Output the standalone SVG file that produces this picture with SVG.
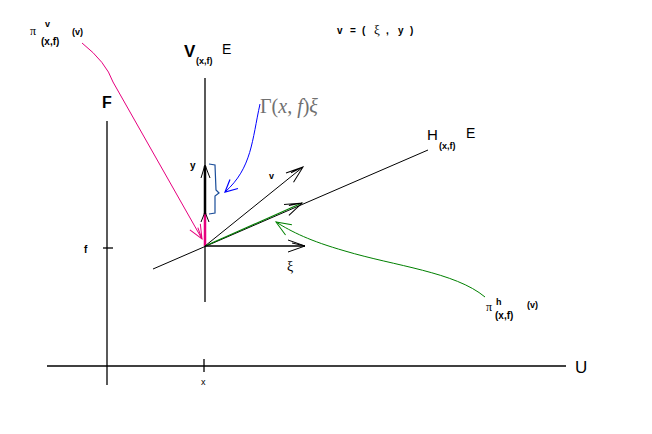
<svg xmlns="http://www.w3.org/2000/svg" width="652" height="434" viewBox="0 0 652 434">
<defs>
<style>
.ax{stroke:#000;stroke-width:1.3;fill:none}
.lbl{font-family:"Liberation Sans",Arial,sans-serif;font-weight:bold;fill:#000}
.nrm{font-weight:normal}
.ser{font-family:"Liberation Serif","Times New Roman",serif;fill:#000}
</style>
<marker id="ak" viewBox="-20 -10 22 20" refX="0" refY="0" markerWidth="22" markerHeight="20" markerUnits="userSpaceOnUse" orient="auto"><path d="M-17,-6 L0,0 L-17,6 M-13,-3 L0,0" fill="none" stroke="#000" stroke-width="1"/></marker>
<marker id="ap" viewBox="-20 -10 22 20" refX="0" refY="0" markerWidth="22" markerHeight="20" markerUnits="userSpaceOnUse" orient="auto"><path d="M-14,-6 L0,0 L-14,6 M-12,-2 L0,0" fill="none" stroke="#e6007e" stroke-width="1"/></marker>
<marker id="ag" viewBox="-20 -10 22 20" refX="0" refY="0" markerWidth="22" markerHeight="20" markerUnits="userSpaceOnUse" orient="auto"><path d="M-15,-6 L0,0 L-15,6" fill="none" stroke="#008000" stroke-width="1"/></marker>
<marker id="ab" viewBox="-20 -10 22 20" refX="0" refY="0" markerWidth="22" markerHeight="20" markerUnits="userSpaceOnUse" orient="auto"><path d="M-12,-6 L0,0 L-12,6" fill="none" stroke="#0000ff" stroke-width="1.2"/></marker>
</defs>
<rect width="652" height="434" fill="#fff"/>

<g id="axes">
<line class="ax" x1="47" y1="366" x2="566" y2="366"/>
<line class="ax" x1="107" y1="121" x2="107" y2="385"/>
<line class="ax" x1="103" y1="248" x2="113" y2="248"/>
<line class="ax" x1="204" y1="359" x2="204" y2="372"/>
<line class="ax" x1="205" y1="78" x2="205" y2="302"/>
<line stroke="#000" stroke-width="1" x1="153" y1="269" x2="428" y2="150"/>
</g>

<g id="labels">
<text class="lbl nrm" x="575" y="373" font-size="17">U</text>
<text class="lbl" x="102" y="108" font-size="16">F</text>
<text class="lbl" x="84" y="253" font-size="10">f</text>
<text class="lbl nrm" x="201" y="385" font-size="9">x</text>
<text class="lbl nrm" x="184" y="57" font-size="17" style="font-weight:600">V</text>
<text class="lbl" x="196" y="64" font-size="9">(x,f)</text>
<text class="lbl nrm" x="222" y="54" font-size="14">E</text>
<text class="lbl nrm" x="427" y="140" font-size="15">H</text>
<text class="lbl" x="439" y="149" font-size="9">(x,f)</text>
<text class="lbl nrm" x="466" y="138" font-size="14">E</text>
<text class="lbl" y="34" font-size="10"><tspan x="337">v</tspan><tspan x="350">=</tspan><tspan x="362">(</tspan><tspan class="ser nrm" x="374" font-size="13">ξ</tspan><tspan x="386">,</tspan><tspan x="398">y</tspan><tspan x="410">)</tspan></text>
<text class="ser" x="260" y="113" font-size="20" style="fill:#707070">Γ(<tspan font-style="italic">x</tspan>, <tspan font-style="italic">f</tspan>)<tspan font-style="italic">ξ</tspan></text>
<text class="lbl" x="190" y="169" font-size="10">y</text>
<text class="lbl" x="269" y="179" font-size="9">v</text>
<text class="ser" x="287" y="271" font-size="14">ξ</text>
<text class="ser" x="30" y="35" font-size="12">π</text>
<text class="lbl" x="45" y="27" font-size="9">v</text>
<text class="lbl" x="41" y="45" font-size="10">(x,f)</text>
<text class="lbl" x="72" y="35" font-size="9">(v)</text>
<text class="ser" x="486" y="311" font-size="12">π</text>
<text class="lbl" x="496" y="305" font-size="9">h</text>
<text class="lbl" x="495" y="319" font-size="10">(x,f)</text>
<text class="lbl" x="527" y="308" font-size="9">(v)</text>
</g>

<g id="vectors">
<line x1="205" y1="246" x2="205" y2="213" stroke="#e6007e" stroke-width="2.5"/>
<line x1="205" y1="214" x2="205" y2="166" stroke="#000" stroke-width="2.5"/>
<path d="M201,178 L205,165 L210,178 M201,222 L205,212 L209,222" fill="none" stroke="#000" stroke-width="1"/>
<line x1="205" y1="246" x2="303" y2="167" stroke="#000" stroke-width="1" marker-end="url(#ak)"/>
<line x1="205" y1="246" x2="302" y2="203" stroke="#008000" stroke-width="1.1" marker-end="url(#ak)"/>
<line x1="205" y1="246" x2="305" y2="246" stroke="#000" stroke-width="1.3" marker-end="url(#ak)"/>
<path d="M209,164 L215,165 L216,190 L219,193 L215,196 L215,213 L209,214" fill="none" stroke="#1a4d99" stroke-width="1.2"/>
</g>

<g id="connectors">
<path d="M82,43 Q106,62 113,82 L202,239" fill="none" stroke="#e6007e" stroke-width="1" marker-end="url(#ap)"/>
<path d="M260,104 C252,140 252,168 225,192" fill="none" stroke="#0000ff" stroke-width="1" marker-end="url(#ab)"/>
<path d="M485,297 C455,272 395,266 345,251 C310,241 292,232 276,222" fill="none" stroke="#008000" stroke-width="1" marker-end="url(#ag)"/>
</g>
</svg>
